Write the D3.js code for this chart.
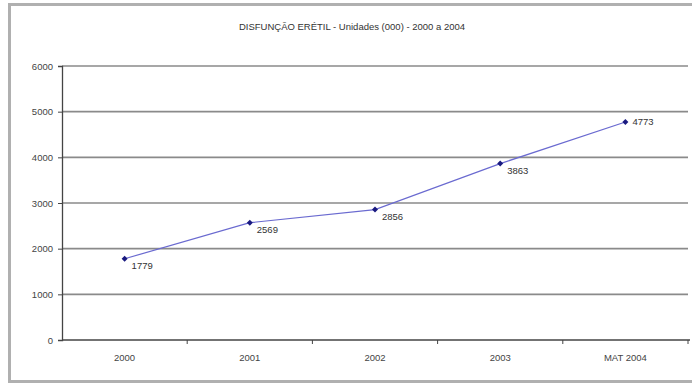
<!DOCTYPE html>
<html>
<head>
<meta charset="utf-8">
<script src="https://cdn.jsdelivr.net/npm/d3@7"></script>
<style>
  body { margin: 0; background: #fff; overflow: hidden; }
  text { font-family: "Liberation Sans", Arial, sans-serif; }
</style>
</head>
<body>
<div id="chart"></div>
<script>
// Disfunção erétil - units (000) per year

var categories = ["2000", "2001", "2002", "2003", "MAT 2004"];
var units = [1779, 2569, 2856, 3863, 4773];
var yTicks = [0, 1000, 2000, 3000, 4000, 5000, 6000];
var chartTitle = "DISFUNÇÃO ERÉTIL - Unidades (000) - 2000 a 2004";

var svgWidth = 692;
var svgHeight = 383;

var margin = {top: 66, right: 4, bottom: 43, left: 62};
var chartWidth = 688 - margin.left;
var chartHeight = 340 - margin.top;

var svg = d3.select("#chart").append("svg")
    .attr("width", svgWidth)
    .attr("height", svgHeight)
    .style("display", "block");

// Outer frame (right side runs past the window edge)
svg.append("rect")
    .attr("x", 9.5)
    .attr("y", 4.5)
    .attr("width", 740)
    .attr("height", 377)
    .attr("fill", "#fff")
    .attr("stroke", "#b0b0b0")
    .attr("stroke-width", 3);

svg.append("text")
    .attr("x", 352)
    .attr("y", 30)
    .attr("text-anchor", "middle")
    .attr("font-size", "9.5px")
    .attr("fill", "#333")
    .text(chartTitle);

var chartGroup = svg.append("g")
    .attr("transform", `translate(${margin.left}, ${margin.top})`);

var xScale = d3.scaleBand()
    .domain(categories)
    .range([0, chartWidth]);

var yScale = d3.scaleLinear()
    .domain([0, 6000])
    .range([chartHeight, 0]);

// Gridlines
chartGroup.selectAll(".grid")
    .data(yTicks.filter(d => d > 0))
    .enter()
    .append("line")
    .attr("x1", 0)
    .attr("x2", chartWidth)
    .attr("y1", d => yScale(d))
    .attr("y2", d => yScale(d))
    .attr("stroke", "#8a8a8a")
    .attr("stroke-width", 1.6);

// Y axis
var yAxis = d3.axisLeft(yScale).tickValues(yTicks).tickFormat(d3.format("d"))
    .tickSize(4).tickPadding(5);
var yG = chartGroup.append("g").call(yAxis);
yG.select(".domain").attr("stroke", "#444").attr("stroke-width", 1.3);
yG.selectAll(".tick line").attr("stroke", "#444");
yG.selectAll("text").attr("font-size", "9.5px").attr("fill", "#444")
    .attr("font-family", "Liberation Sans, Arial, sans-serif");

// X axis with ticks between categories
var xG = chartGroup.append("g")
    .attr("transform", `translate(0, ${chartHeight})`);
xG.append("line")
    .attr("x1", 0).attr("x2", chartWidth + 2)
    .attr("stroke", "#444").attr("stroke-width", 1.3);
xG.selectAll(".sep")
    .data(categories)
    .enter()
    .append("line")
    .attr("x1", d => xScale(d) + xScale.bandwidth())
    .attr("x2", d => xScale(d) + xScale.bandwidth())
    .attr("y1", 0).attr("y2", 4)
    .attr("stroke", "#444");
xG.selectAll(".xlabel")
    .data(categories)
    .enter()
    .append("text")
    .attr("x", d => xScale(d) + xScale.bandwidth() / 2)
    .attr("y", 21)
    .attr("text-anchor", "middle")
    .attr("font-size", "9.5px")
    .attr("fill", "#444")
    .text(d => d);

// Line
var line = d3.line()
    .x((d, i) => xScale(categories[i]) + xScale.bandwidth() / 2)
    .y(d => yScale(d));

chartGroup.append("path")
    .datum(units)
    .attr("d", line)
    .attr("fill", "none")
    .attr("stroke", "#6a6ad0")
    .attr("stroke-width", 1.2);

// Diamond markers (rotated squares)
chartGroup.selectAll(".pt")
    .data(units)
    .enter()
    .append("path")
    .attr("d", d3.symbol().type(d3.symbolSquare).size(18))
    .attr("transform", (d, i) => `translate(${xScale(categories[i]) + xScale.bandwidth() / 2}, ${yScale(d)}) rotate(45)`)
    .attr("fill", "#1a1a80");

// Value labels
chartGroup.selectAll(".val")
    .data(units)
    .enter()
    .append("text")
    .attr("x", (d, i) => xScale(categories[i]) + xScale.bandwidth() / 2 + 7)
    .attr("y", (d, i) => yScale(d) + (i === 4 ? 3 : 10))
    .attr("font-size", "9.5px")
    .attr("fill", "#333")
    .text(d => d);
</script>
</body>
</html>
